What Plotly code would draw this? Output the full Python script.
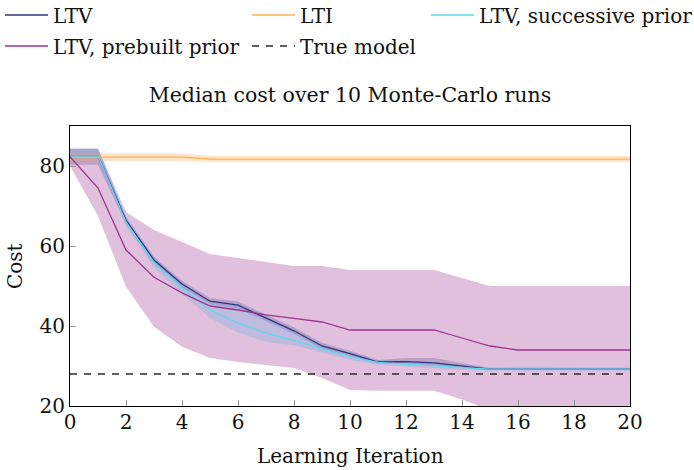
import plotly.graph_objects as go

# Learning iterations
iterations = list(range(21))

# LTV (median and spread)
ltv_med = [82.5, 82.5, 66.5, 56.5, 50.5, 46.2, 45.2, 42.0, 38.8, 35.0, 33.1,
           31.0, 31.1, 30.8, 30.0, 29.2, 29.2, 29.2, 29.2, 29.2, 29.2]
ltv_lo = [80.3, 80.3, 65.5, 55.5, 49.6, 45.4, 44.4, 41.2, 38.0, 34.3, 32.5,
          30.6, 30.6, 30.2, 29.5, 29.0, 29.0, 29.0, 29.0, 29.0, 29.0]
ltv_hi = [84.3, 84.3, 67.3, 57.3, 51.3, 47.0, 46.1, 42.9, 39.7, 35.8, 33.8,
          31.5, 32.0, 32.0, 30.8, 29.5, 29.4, 29.4, 29.4, 29.4, 29.4]

# LTI
lti_med = [82.2, 82.2, 82.2, 82.2, 82.2, 81.7, 81.7, 81.7, 81.7, 81.7, 81.7,
           81.7, 81.7, 81.7, 81.7, 81.7, 81.7, 81.7, 81.7, 81.7, 81.7]
lti_lo = [81.2, 81.2, 81.2, 81.2, 81.2, 81.0, 81.0, 81.0, 81.0, 81.0, 81.0,
          81.0, 81.0, 81.0, 81.0, 81.0, 81.0, 81.0, 81.0, 81.0, 81.0]
lti_hi = [83.2, 83.2, 83.2, 83.2, 83.2, 82.5, 82.5, 82.5, 82.5, 82.5, 82.5,
          82.5, 82.5, 82.5, 82.5, 82.5, 82.5, 82.5, 82.5, 82.5, 82.5]

# LTV with successive prior
succ_med = [82.5, 82.5, 66.0, 55.8, 49.5, 44.0, 40.7, 38.2, 36.4, 34.2, 32.3,
            30.9, 30.4, 30.0, 29.6, 29.2, 29.2, 29.2, 29.2, 29.2, 29.2]
succ_lo = [82.0, 82.0, 64.8, 54.5, 48.0, 42.0, 38.4, 36.0, 35.2, 33.3, 31.5,
           30.3, 29.8, 29.4, 29.0, 28.8, 28.8, 28.8, 28.8, 28.8, 28.8]
succ_hi = [84.3, 84.3, 67.0, 57.0, 50.8, 46.0, 45.5, 42.2, 39.0, 35.3, 33.3,
           31.5, 31.2, 30.8, 30.2, 29.6, 29.9, 29.9, 29.6, 29.6, 29.6]

# LTV with prebuilt prior
pre_med = [82.3, 74.5, 59.0, 52.2, 48.3, 45.0, 44.0, 42.8, 41.9, 41.0, 39.0,
           39.0, 39.0, 39.0, 37.0, 35.0, 34.0, 34.0, 34.0, 34.0, 34.0]
pre_lo = [80.0, 67.5, 49.8, 39.8, 34.8, 32.0, 31.0, 30.2, 29.5, 27.0, 24.0,
          23.8, 23.8, 23.8, 21.6, 19.0, 19.0, 19.0, 19.0, 19.0, 19.0]
pre_hi = [84.3, 84.3, 68.5, 64.0, 61.0, 58.0, 57.0, 56.0, 55.0, 55.0, 54.0,
          54.0, 54.0, 54.0, 52.0, 50.0, 50.0, 50.0, 50.0, 50.0, 50.0]

# True model cost
true_cost = [28.0] * 21

x_ticks = list(range(0, 21, 2))
y_ticks = [20, 40, 60, 80]

FONT = "DejaVu Serif"
TXT = "#111"
W, H = 694, 470

fig = go.Figure()


def band(lo, hi, fillcolor):
    fig.add_trace(go.Scatter(
        x=iterations + iterations[::-1], y=hi + lo[::-1],
        fill="toself", fillcolor=fillcolor, line=dict(width=0),
        mode="lines", hoverinfo="skip", showlegend=False))


band(pre_lo, pre_hi, "rgba(155,47,143,0.30)")
band(ltv_lo, ltv_hi, "rgba(51,51,127,0.22)")
band(succ_lo, succ_hi, "rgba(110,175,225,0.30)")
band(lti_lo, lti_hi, "rgba(255,166,77,0.30)")

series = [
    ("LTV", ltv_med, "#33337f", "solid", "legend"),
    ("LTI", lti_med, "#ffb050", "solid", "legend2"),
    ("LTV, successive prior", succ_med, "#5fd8ee", "solid", "legend3"),
    ("LTV, prebuilt prior", pre_med, "#9c3593", "solid", "legend4"),
    ("True model", true_cost, "#2a2a2a", "7px,7px", "legend5"),
]
for name, vals, color, dash, lg in series:
    fig.add_trace(go.Scatter(
        x=iterations, y=vals, mode="lines", name=name,
        line=dict(color=color, width=1.3, dash=dash), legend=lg))

# one legend box per entry, laid out in a two-row grid
legend_pos = {
    "legend": (0, 15), "legend2": (247, 15), "legend3": (426, 15),
    "legend4": (0, 46), "legend5": (247, 46),
}
legend_common = dict(xref="container", yref="container", xanchor="left",
                     yanchor="middle", bgcolor="rgba(0,0,0,0)",
                     font=dict(family=FONT, size=20, color=TXT),
                     itemwidth=43)
legend_layout = {k: dict(x=px / W, y=1 - py / H, **legend_common)
                 for k, (px, py) in legend_pos.items()}

axis_common = dict(showgrid=False, zeroline=False, showline=True,
                   linecolor="black", linewidth=1, mirror=True,
                   ticks="inside", ticklen=6, tickcolor="#999",
                   automargin=False,
                   tickfont=dict(family=FONT, size=20, color=TXT))

fig.update_layout(
    width=W, height=H,
    margin=dict(l=70, r=64, t=126, b=64, autoexpand=False),
    paper_bgcolor="white", plot_bgcolor="white",
    title=dict(text="Median cost over 10 Monte-Carlo runs",
               font=dict(family=FONT, size=20.5, color=TXT),
               x=0.5, xref="paper", y=1 - 95 / H, yref="container",
               xanchor="center", yanchor="middle"),
    xaxis=dict(range=[0, 20], tickvals=x_ticks, ticklabelstandoff=-2,
               **axis_common),
    yaxis=dict(range=[20, 90], tickvals=y_ticks, **axis_common),
    **legend_layout,
)

# axis titles
fig.add_annotation(text="Learning Iteration", xref="paper", yref="paper",
                   x=0.5, y=-(456 - 406) / 280, xanchor="center",
                   yanchor="middle", showarrow=False,
                   font=dict(family=FONT, size=20, color=TXT))
fig.add_annotation(text="Cost", xref="paper", yref="paper",
                   x=-(70 - 15) / 560, y=0.5, xanchor="center",
                   yanchor="middle", textangle=-90, showarrow=False,
                   font=dict(family=FONT, size=20, color=TXT))

fig.write_html("out.html")
